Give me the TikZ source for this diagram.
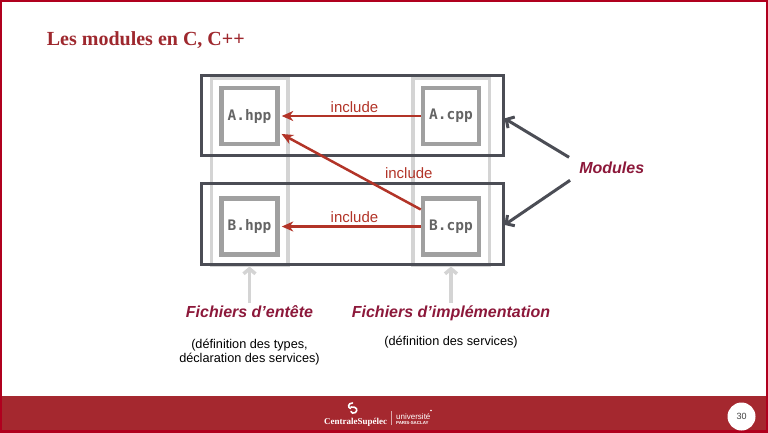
\documentclass[tikz,border=0pt]{standalone}
\usepackage{fontspec}
\setmainfont{Liberation Sans}
\newfontfamily\titlefont{Liberation Serif}
\newfontfamily\codefont{DejaVu Sans Mono}
\usepackage{tikz}
\usetikzlibrary{arrows.meta,positioning,fit}
\definecolor{csred}{RGB}{158,40,46}
\definecolor{framered}{RGB}{176,0,30}
\definecolor{band}{RGB}{165,40,47}
\definecolor{plum}{RGB}{140,24,58}
\definecolor{incred}{RGB}{178,52,40}
\definecolor{modgray}{RGB}{75,77,85}
\definecolor{boxgray}{RGB}{160,160,160}
\definecolor{colgray}{RGB}{212,212,212}
\definecolor{codegray}{RGB}{100,100,100}

\begin{document}
\begin{tikzpicture}[x=1pt, y=-1pt,
  file/.style={draw=boxgray, line width=4.5pt, minimum size=56pt, inner sep=0pt, text=codegray, font=\codefont\bfseries\fontsize{14.5}{17}\selectfont},
  column/.style={draw=colgray, line width=3.5pt, inner sep=8pt},
  module/.style={draw=modgray, line width=3pt, minimum width=302pt, inner sep=0pt},
  incl/.style={-{Stealth[length=11.5pt,width=10pt,inset=3.5pt]}, draw=incred, line width=2.5pt, shorten >=2pt},
  pointer/.style={-{Straight Barb[length=6pt,width=13pt]}, draw=modgray, line width=3pt},
  up/.style={-{Straight Barb[length=5pt,width=12pt]}, draw=colgray, line width=3.5pt},
  lbl/.style={text=incred, font=\fontsize{15}{18}\selectfont, inner sep=2.5pt},
  kind/.style={text=plum, font=\bfseries\itshape\fontsize{16}{19}\selectfont, text height=12pt, text depth=3.5pt, inner sep=3pt},
  note/.style={align=center, font=\fontsize{12.7}{14}\selectfont, inner sep=2pt},
  logo/.style={anchor=base west, inner sep=0pt, text=white}]
  \useasboundingbox (0,0) rectangle (768,432);
  % slide frame and footer
  \fill[band] (0,395.7) rectangle (768,432);
  \draw[framered, line width=4pt] (0,0) rectangle (768,432);
  \node[anchor=base west, inner sep=0pt, text=csred, font=\titlefont\bfseries\fontsize{20}{24}\selectfont] (title) at (46.7,45) {Les modules en C, C++};

  % files
  \node[file] (ahpp) at (249.5,116) {A.hpp};
  \node[file, right=141pt of ahpp] (acpp) {A.cpp};
  \node[file, below=50pt of ahpp] (bhpp) {B.hpp};
  \node[file, right=141pt of bhpp] (bcpp) {B.cpp};
  \node[column, fit=(ahpp)(bhpp)] (hcol) {};
  \node[column, fit=(acpp)(bcpp)] (icol) {};

  % modules
  \node[module, minimum height=80.8pt] (moda) at (352,115.4) {};
  \node[module, minimum height=81.3pt] (modb) at (352,223.9) {};

  \draw[incl] (acpp) -- node[lbl, pos=0.47, above] {include} (ahpp);
  \draw[incl] (bcpp) -- node[lbl, pos=0.47, above] {include} (bhpp);
  \draw[incl] ([yshift=17pt]bcpp.west) -- node[lbl, pos=0.28, anchor=south west, yshift=5.5pt] {include} ([yshift=-17pt]ahpp.east);

  \node[kind] (mods) at (611.7,169.3) {Modules};
  \draw[pointer] ([shift={(-7pt,12pt)}]mods.west) -- ([yshift=-3pt]moda.east);
  \draw[pointer] ([shift={(-6pt,-11pt)}]mods.west) -- ([yshift=-1pt]modb.east);

  \node[kind, below=36pt of hcol] (hdr) {Fichiers d’entête};
  \node[kind, below=36pt of icol] (impl) {Fichiers d’implémentation};
  \draw[up] (hdr) -- (hcol);
  \draw[up] (impl) -- (icol);
  \node[note, below=13pt of hdr] (hdrnote) {(définition des types,\\déclaration des services)};
  \node[note, below=10pt of impl] (implnote) {(définition des services)};

  % footer logos
  \draw[white, line width=1.6pt, line cap=round] (352.5,403) .. controls (348,403) and (347.5,407.5) .. (350.5,408.5);
  \draw[white, line width=1.6pt, line cap=round] (351,407) .. controls (357,406.5) and (358,410) .. (355.5,412.5) .. controls (353.5,414) and (351,413) .. (351,411.5);
  \node[logo, font=\titlefont\bfseries\fontsize{9}{10}\selectfont] (cs) at (324,424.3) {CentraleSupélec};
  \draw[white, opacity=0.6, line width=0.5pt] (391,411) -- (391,425);
  \node[logo, font=\fontsize{8}{9}\selectfont] (ups) at (396,419) {université};
  \node[logo, font=\bfseries\fontsize{4.4}{5}\selectfont] (saclay) at (396,424.3) {PARIS-SACLAY};
  \fill[white] (431,410.5) circle (0.9);
  \node[circle, fill=white, minimum size=28pt, inner sep=0pt, text=darkgray, font=\fontsize{9}{10}\selectfont] (page) at (741.5,416.5) {30};
\end{tikzpicture}
\end{document}
